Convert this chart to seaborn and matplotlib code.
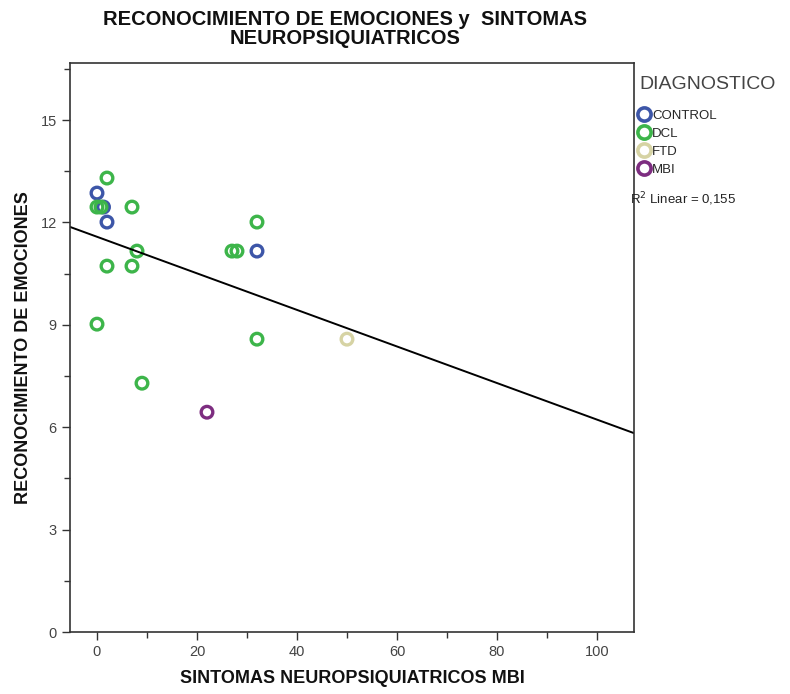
import matplotlib
matplotlib.use("Agg")
import matplotlib.pyplot as plt
from matplotlib.lines import Line2D
from matplotlib.ticker import MultipleLocator
import numpy as np
import pandas as pd
import seaborn as sns

# ---- data ----
control_x = [0, 1.3, 2, 32]
control_y = [12.86, 12.45, 12.01, 11.16]
dcl_x = [2, 0, 0.8, 7, 8, 2, 7, 0, 9, 32, 27, 28, 32]
dcl_y = [13.3, 12.45, 12.45, 12.45, 11.16, 10.72, 10.72, 9.02, 7.29, 12.01, 11.16, 11.16, 8.58]
ftd_x = [50]
ftd_y = [8.58]
mbi_x = [22]
mbi_y = [6.44]
groups = ["CONTROL", "DCL", "FTD", "MBI"]
r2_text = "R$^2$ Linear = 0,155"

df = pd.concat([
    pd.DataFrame({"x": control_x, "y": control_y, "g": "CONTROL"}),
    pd.DataFrame({"x": dcl_x, "y": dcl_y, "g": "DCL"}),
    pd.DataFrame({"x": ftd_x, "y": ftd_y, "g": "FTD"}),
    pd.DataFrame({"x": mbi_x, "y": mbi_y, "g": "MBI"}),
], ignore_index=True)

colors = {"CONTROL": "#3d56a8", "DCL": "#3db54a", "FTD": "#d6d3a4", "MBI": "#7d2d80"}

sns.set_style("white")
plt.rcParams["font.family"] = ["Liberation Sans", "DejaVu Sans"]

fig = plt.figure(figsize=(7.9, 6.94), dpi=100)
ax = fig.add_axes([0.0886, 0.0893, 0.7139, 0.8199])
ax.set_xlim(-5.4, 107.4)
ax.set_ylim(0, 16.67)

for g in groups:
    sub = df[df.g == g]
    sns.scatterplot(x=sub.x, y=sub.y, ax=ax, marker="o", s=70,
                    facecolor="none", edgecolor=colors[g], linewidth=2.4, legend=False)

sns.regplot(data=df, x="x", y="y", ax=ax, scatter=False, ci=None, truncate=False,
            line_kws={"color": "black", "linewidth": 1.4})

ax.set_xlim(-5.4, 107.4)
ax.set_ylim(0, 16.67)
ax.xaxis.set_major_locator(MultipleLocator(20))
ax.xaxis.set_minor_locator(MultipleLocator(10))
ax.yaxis.set_major_locator(MultipleLocator(3))
ax.yaxis.set_minor_locator(MultipleLocator(1.5))
ax.tick_params(axis="both", which="major", direction="out", length=6, width=1,
               colors="#333333", labelsize=10.5, labelcolor="#444444")
ax.tick_params(axis="both", which="minor", direction="out", length=4, width=1, colors="#333333")
ax.tick_params(axis="x", bottom=True, which="both")
ax.tick_params(axis="y", left=True, which="both")
for sp in ax.spines.values():
    sp.set_color("#333333")
    sp.set_linewidth(1.2)

lab_font = dict(fontweight="bold", family=["Liberation Sans", "DejaVu Sans"], color="#111111")
ax.set_xlabel("SINTOMAS NEUROPSIQUIATRICOS MBI", labelpad=8, fontsize=13, **lab_font)
ax.set_ylabel("RECONOCIMIENTO DE EMOCIONES", labelpad=6, fontsize=13, **lab_font)

fig.text(0.437, 0.985, "RECONOCIMIENTO DE EMOCIONES y  SINTOMAS\nNEUROPSIQUIATRICOS",
         ha="center", va="top", linespacing=0.95, fontsize=14.5, **lab_font)

handles = [Line2D([0], [0], marker="o", linestyle="none", markersize=9.5,
                  markerfacecolor="none", markeredgecolor=colors[g], markeredgewidth=2.6)
           for g in groups]
leg = fig.legend(handles, groups, loc="upper left", bbox_to_anchor=(0.809, 0.891),
                 frameon=False, fontsize=9.5, handlelength=0.8, handletextpad=0.2,
                 labelspacing=0.45, title="DIAGNOSTICO", title_fontsize=14,
                 borderaxespad=0, borderpad=0)
leg._legend_box.align = "left"
leg.get_title().set_color("#444444")
leg._legend_box.sep = 12
fig.text(0.798, 0.713, r2_text, fontsize=9.5, ha="left", va="center", color="#222222")

fig.savefig("out.png", dpi=100, facecolor="white")
